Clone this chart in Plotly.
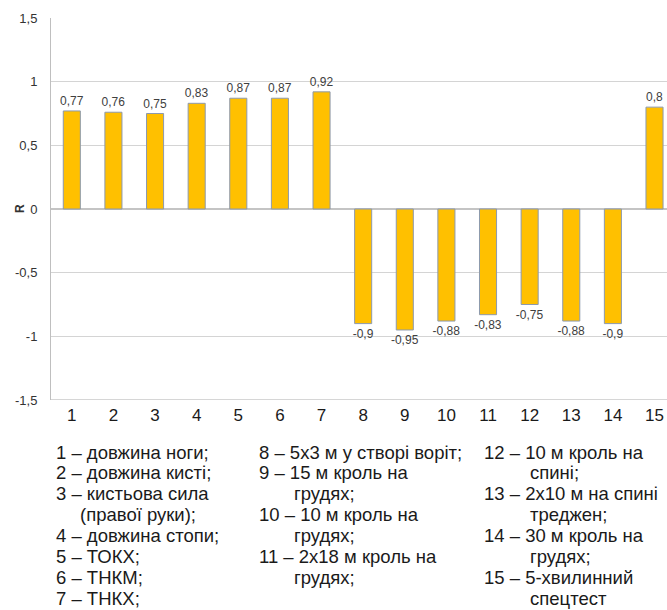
import plotly.graph_objects as go

categories = list(range(1, 16))
values = [0.77, 0.76, 0.75, 0.83, 0.87, 0.87, 0.92, -0.9, -0.95, -0.88, -0.83, -0.75, -0.88, -0.9, 0.8]
value_labels = [str(v).replace(".", ",") for v in values]
y_ticks = [1.5, 1, 0.5, 0, -0.5, -1, -1.5]
y_ticktext = ["1,5", "1", "0,5", "0", "-0,5", "-1", "-1,5"]

# (text, indent level) per line
legend_col1 = [("1 – довжина ноги;", 0), ("2 – довжина кисті;", 0), ("3 – кистьова сила", 0),
               ("(правої руки);", 1), ("4 – довжина стопи;", 0), ("5 – ТОКХ;", 0),
               ("6 – ТНКМ;", 0), ("7 – ТНКХ;", 0)]
legend_col2 = [("8 – 5х3 м у створі воріт;", 0), ("9 – 15 м кроль на", 0), ("грудях;", 1),
               ("10 – 10 м кроль на", 0), ("грудях;", 1), ("11 – 2х18 м кроль на", 0), ("грудях;", 1)]
legend_col3 = [("12 – 10 м кроль на", 0), ("спині;", 1), ("13 – 2х10 м на спині", 0),
               ("треджен;", 1), ("14 – 30 м кроль на", 0), ("грудях;", 1),
               ("15 – 5-хвилинний", 0), ("спецтест", 1)]

W, H = 667, 610
PL, PR, PT, PB = 51, 667, 18, 400          # plot area in window pixels
L, T = PL, PT
R = W - PR
B = H - PB
pw, ph = W - L - R, H - T - B

def px(xw):
    return (xw - PL) / pw

def py(yw):
    return (PB - yw) / ph

FONT = "Liberation Sans, Arial, Helvetica, sans-serif"

fig = go.Figure(go.Bar(
    x=categories, y=values,
    width=0.41,
    marker=dict(color="#FFC000", line=dict(color="#8C99AE", width=1)),
    text=value_labels, textposition="outside", constraintext="none",
    textfont=dict(size=12, color="#404040", family=FONT),
    cliponaxis=False,
))

fig.update_layout(
    width=W, height=H,
    margin=dict(l=L, r=R, t=T, b=B, pad=0),
    paper_bgcolor="white", plot_bgcolor="white",
    showlegend=False,
    font=dict(family=FONT),
    xaxis=dict(range=[0.5, 15.3], tickvals=categories, ticktext=[str(c) for c in categories],
               tickfont=dict(size=17, color="#1a1a1a"), showgrid=False, zeroline=False,
               showline=False, ticks="", ticklabelstandoff=3),
    yaxis=dict(range=[-1.5, 1.5], tickvals=y_ticks, ticktext=y_ticktext,
               tickfont=dict(size=13, color="#333333"), showgrid=True, gridcolor="#D4D4D4",
               gridwidth=1, zeroline=True, zerolinecolor="#C4C4C4", zerolinewidth=1.5,
               showline=True, linecolor="#BFBFBF", linewidth=1, ticks="", ticklabelstandoff=10),
)

# bottom axis line
fig.add_shape(type="line", xref="paper", yref="y", x0=0, x1=1, y0=-1.5, y1=-1.5,
              line=dict(color="#C8C8C8", width=1.5))

# y-axis title
fig.add_annotation(text="<b>R</b>", xref="paper", yref="paper", x=px(20), y=py(209),
                   textangle=-90, showarrow=False, font=dict(size=12, color="#333333"),
                   xanchor="center", yanchor="middle")

line_h = 20.9
y0 = 452
cols = ((legend_col1, 54, 24), (legend_col2, 257, 35), (legend_col3, 482, 46))
for col, x0, indent in cols:
    for i, (line, lvl) in enumerate(col):
        fig.add_annotation(text=line, xref="paper", yref="paper",
                           x=px(x0 + lvl * indent), y=py(y0 + i * line_h),
                           showarrow=False, xanchor="left", yanchor="middle",
                           font=dict(size=18.5, color="#1a1a1a", family=FONT))

fig.write_html("out.html", config={"displayModeBar": False},
               post_script="document.body.style.margin='0';document.body.style.overflow='hidden';")
